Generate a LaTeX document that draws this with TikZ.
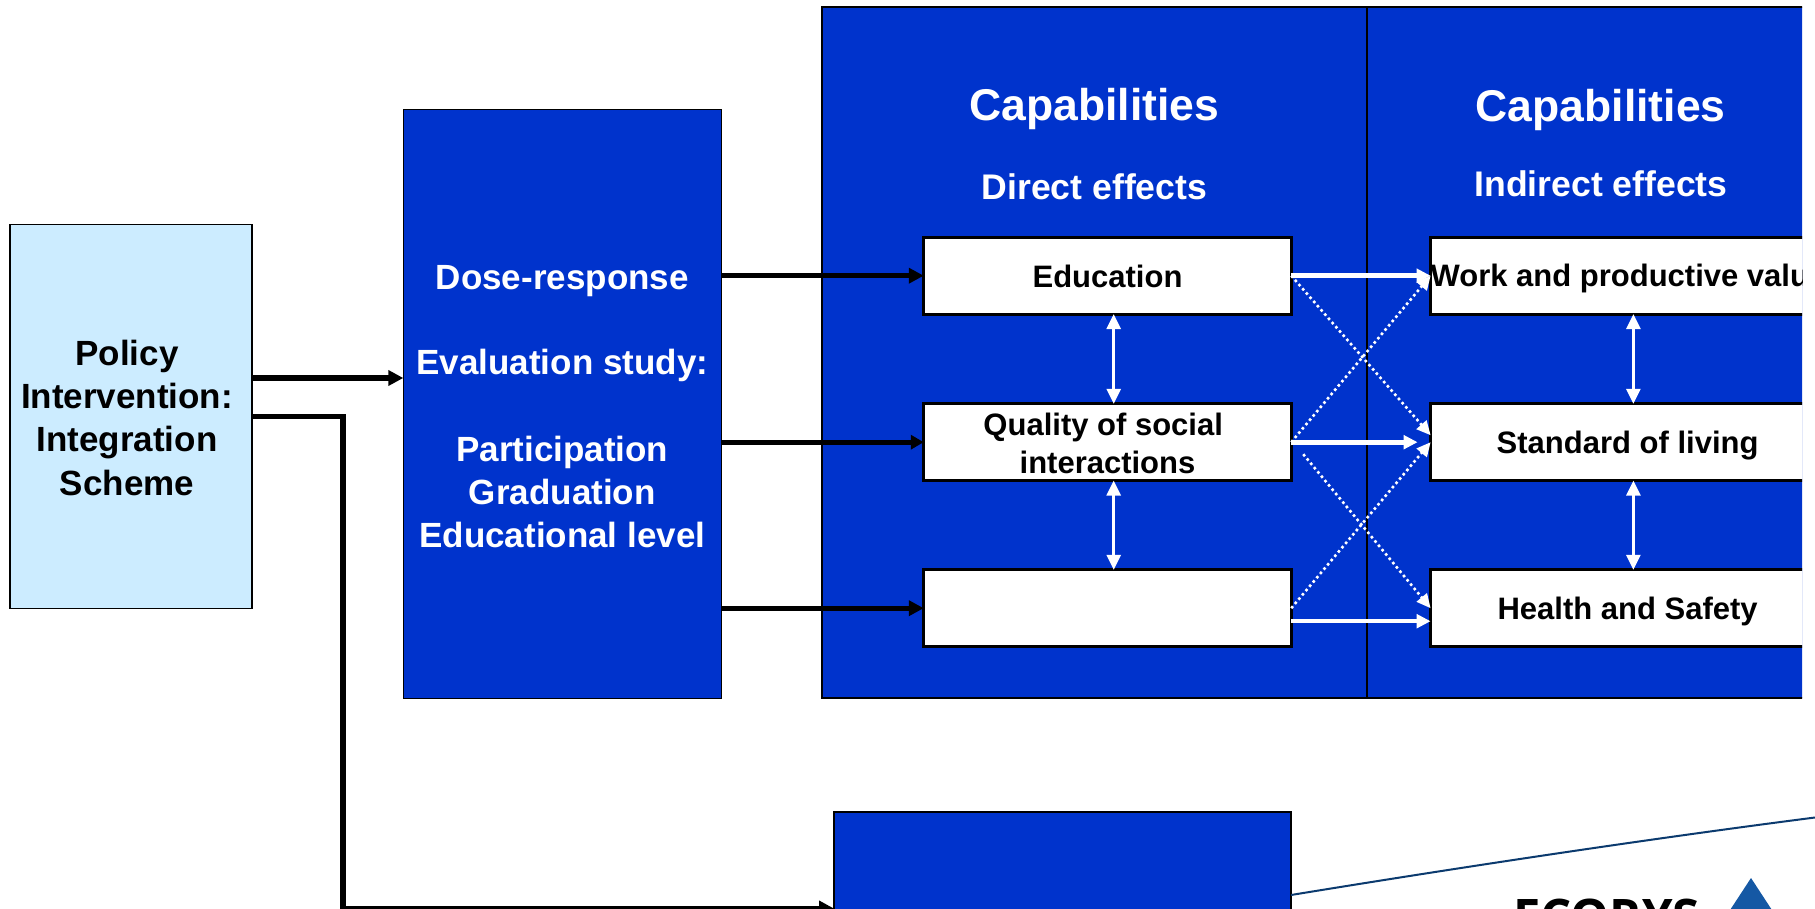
\documentclass[tikz,border=0pt]{standalone}
\usepackage{fontspec}
\setmainfont{Liberation Sans}
\newfontfamily\logofont{Open Sans}
\usetikzlibrary{arrows.meta}
\definecolor{panelblue}{HTML}{0033CC}
\definecolor{paleblue}{HTML}{CCECFF}
\definecolor{logoblue}{HTML}{1558A4}
\definecolor{navyline}{HTML}{0B3A6E}
\tikzset{
  anybox/.style={rectangle,inner sep=0pt,outer sep=0pt,align=center,font=\fontsize{35}{43.3}\selectfont\bfseries},
  bluebox/.style={anybox,draw=black,line width=1.5pt,fill=panelblue,text=white},
  panelbox/.style={bluebox,line width=2pt},
  palebox/.style={anybox,draw=black,line width=1.5pt,fill=paleblue,text=black},
  whitebox/.style={anybox,draw=black,line width=3pt,fill=white,text=black,minimum height=76.8pt,font=\fontsize{31}{38.3}\selectfont\bfseries},
  oneline/.style={text height=22.2pt,text depth=0pt},
  bigcap/.style={anchor=base,text=white,inner sep=0pt,font=\fontsize{44.5}{50}\selectfont\bfseries},
  subcap/.style={anchor=base,text=white,inner sep=0pt,font=\fontsize{35.6}{40}\selectfont\bfseries},
  blackarrow/.style={draw=black,line width=5.2pt,-{Triangle[length=15pt,width=15pt]}},
  whitearrow/.style={draw=white,line width=5pt,-{Triangle[length=14pt,width=13.5pt]}},
  whitedouble/.style={draw=white,line width=2.8pt,{Triangle[length=15pt,width=14pt]}-{Triangle[length=15pt,width=14pt]}},
  whitedotted/.style={draw=white,line width=2.6pt,dash pattern=on 2.6pt off 3pt,-{Triangle[length=14pt,width=13pt]}},
}
\begin{document}
\begin{tikzpicture}[x=1pt,y=-1pt]
\useasboundingbox (0,0) rectangle (1815,909);
\clip (0,0) rectangle (1815,909);

% left boxes
\node[palebox,minimum width=242pt,minimum height=384pt] (policy) at (131,416.5)
  {\rule{0pt}{28pt}Policy\kern8pt\\Intervention:\kern8pt\\Integration\kern8pt\\Scheme\kern8pt};
\node[bluebox,minimum width=318pt,minimum height=588.5pt] (dose) at (562.3,404)
  {\rule{0pt}{30pt}Dose-response\\[41.3pt]Evaluation study:\\[43.3pt]Participation\\Graduation\\Educational level};
\node[bluebox,minimum width=457pt,minimum height=200pt] (low) at (1062.5,912) {};

% clipped panels and boxes
\begin{scope}
\clip (0,0) rectangle (1802,909);
\node[panelbox,minimum width=545.5pt,minimum height=690.5pt] (panelA) at (1094.25,352.75) {};
\node[panelbox,minimum width=545.5pt,minimum height=690.5pt] (panelB) at (1639.75,352.75) {};
\node[bigcap] (capA) at (1094.5,121) {Capabilities};
\node[bigcap] (capB) at (1600.7,122) {Capabilities};
\node[subcap] (dirE) at (1094.5,199.5) {Direct effects};
\node[subcap] (indE) at (1601,196.7) {Indirect effects};

\node[whitebox,oneline,text height=23.4pt,minimum width=367.5pt] (edu) at (1107.5,275.7) {Education};
\node[whitebox,minimum width=367.5pt] (qual) at (1107.5,442.2) {\rule{0pt}{25pt}Quality of social\kern8.6pt\\interactions};
\node[whitebox,minimum width=367.5pt] (blank) at (1107.5,608.2) {};
\node[whitebox,oneline,minimum width=394pt] (work) at (1627.6,275.7) {\makebox[394pt][l]{Work and productive value}};
\node[whitebox,oneline,minimum width=394pt] (std) at (1627.6,442.2) {Standard of living};
\node[whitebox,oneline,minimum width=394pt] (health) at (1627.6,608.2) {Health and Safety};

% white links
\draw[whitedouble] ([xshift=6.2pt]edu.south) -- ([xshift=6.2pt]qual.north);
\draw[whitedouble] ([xshift=6.2pt]qual.south) -- ([xshift=6.2pt]blank.north);
\draw[whitedouble] ([xshift=5.8pt]work.south) -- ([xshift=5.8pt]std.north);
\draw[whitedouble] ([xshift=5.8pt]std.south) -- ([xshift=5.8pt]health.north);
\draw[whitearrow] (edu.east) -- (work.west);
\draw[whitearrow] (qual.east) -- ([xshift=-13pt]std.west);
\draw[whitearrow,line width=4.4pt] ([yshift=-13pt]blank.east) -- ([yshift=-13pt]health.west);
\draw[whitedotted] (edu.east) -- ([yshift=7pt]std.west);
\draw[whitedotted] (qual.east) -- (work.west);
\draw[whitedotted] ([xshift=12pt,yshift=-12pt]qual.east) -- (health.west);
\draw[whitedotted] (blank.east) -- (std.west);
\end{scope}

% black connectors
\draw[blackarrow] ([yshift=38.5pt]policy.east) -- (dose.west |- 0,378);
\draw[blackarrow] (dose.east |- edu.west) -- (edu.west);
\draw[blackarrow,-{Triangle[length=13pt,width=14pt]}] (dose.east |- qual.west) -- (qual.west);
\draw[blackarrow] (dose.east |- blank.west) -- (blank.west);
\coordinate (elbow) at (343,908.5);
\draw[blackarrow,miter limit=10] (policy.east) -- (elbow |- policy.east) -- (elbow) -- (low.west |- elbow);

% rule from the lower box to the right edge
\coordinate (ruleend) at (1815,817.5);
\draw[navyline,line width=2pt] ([yshift=17pt]low.east) .. controls (1450,869) and (1640,840) .. (ruleend);

% logo
\node[anchor=base west,inner sep=0pt,font=\logofont\fontsize{49}{50}\selectfont\bfseries,text=black] (logo) at (1513,934) {ECORYS};
\fill[logoblue] (1751,878) -- (1785,930) -- (1717,930) -- cycle;
\end{tikzpicture}
\end{document}
